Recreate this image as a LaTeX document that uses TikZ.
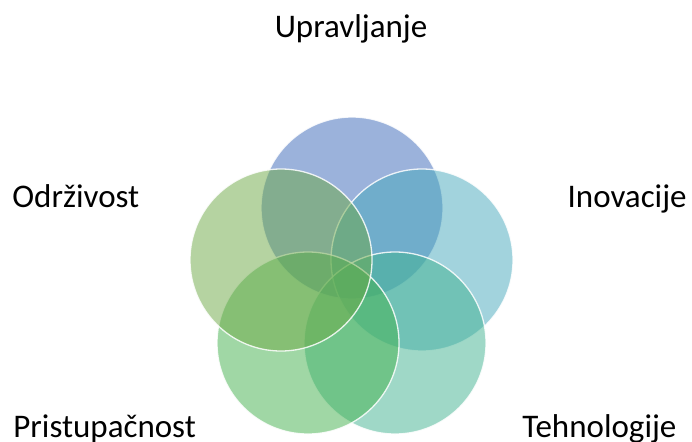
\documentclass[tikz,border=0pt]{standalone}
\usepackage{fontspec}
\setmainfont{Carlito}
\usepackage{tikz}
\usetikzlibrary{positioning}
\definecolor{cUpr}{RGB}{57,103,185}
\definecolor{cIno}{RGB}{71,169,189}
\definecolor{cTeh}{RGB}{65,179,145}
\definecolor{cPri}{RGB}{67,177,77}
\definecolor{cOdr}{RGB}{109,169,69}
\tikzset{every picture/.style={line width=0.75pt}}
\tikzset{krug/.style={circle, minimum size=182pt, inner sep=0pt, fill opacity=0.5, draw=white, draw opacity=0.85, line width=1.3pt}}
\tikzset{naziv/.style={font=\fontsize{33}{36}\selectfont, inner sep=0pt}}

\begin{document}
\begin{tikzpicture}[x=1pt,y=-1pt]
\useasboundingbox (0,0) rectangle (692,441);
\fill[white] (0,0) rectangle (692,441);
\node[krug, fill=cUpr] (upr) at (352,208) {};
\node[krug, fill=cIno] (ino) at (422,260) {};
\node[krug, fill=cTeh] (teh) at (395,343) {};
\node[krug, fill=cPri] (pri) at (308,343) {};
\node[krug, fill=cOdr] (odr) at (281,260) {};
%
\node[naziv, anchor=base] (tUpr) at (351,38) {Upravljanje};
\node[naziv, anchor=base east] (tIno) at (687,207) {Inovacije};
\node[naziv, anchor=base west] (tTeh) at (522,437) {Tehnologije};
\node[naziv, anchor=base west] (tPri) at (13,437) {Pristupačnost};
\node[naziv, anchor=base west] (tOdr) at (12,207) {Održivost};
\end{tikzpicture}
\end{document}
